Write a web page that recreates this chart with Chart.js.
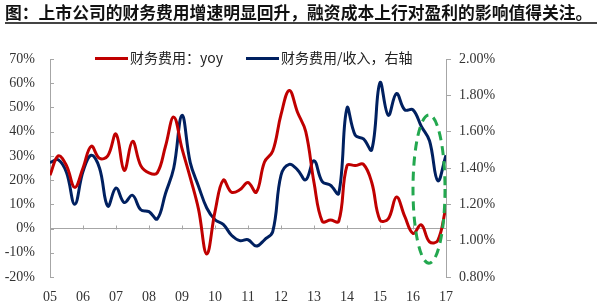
<!DOCTYPE html>
<html>
<head>
<meta charset="utf-8">
<script src="https://cdn.jsdelivr.net/npm/chart.js@4.4.0/dist/chart.umd.min.js"></script>
<style>
body { margin: 0; background: #fff; }
#wrap { position: relative; width: 600px; height: 304px; overflow: hidden; }
#chart { position: absolute; left: 0; top: 0; }
#title {
    position: absolute; left: 5px; top: 3px; width: 592px;
    font: bold 16.8px "Noto Sans CJK SC"; color: #111;
    line-height: 19px; border-bottom: 2px solid #444; white-space: nowrap;
}
.leg { position: absolute; top: 47px; height: 18px; line-height: 18px; font: 14px "Noto Sans CJK SC"; color: #222; white-space: nowrap; }
.leg i { display: inline-block; width: 33px; height: 3px; vertical-align: middle; margin-right: 2px; margin-top: -2px; }
</style>
</head>
<body>
<div id="wrap">
    <canvas id="chart" width="600" height="304"></canvas>
    <div id="title">图：上市公司的财务费用增速明显回升，融资成本上行对盈利的影响值得关注。</div>
    <div class="leg" id="leg0" style="left:95px"></div>
    <div class="leg" id="leg1" style="left:246px"></div>
</div>
<script>
// quarterly points, 2005 Q1 .. 2017 Q1
var quarters = [
    2005, 2005.25, 2005.5, 2005.75,
    2006, 2006.25, 2006.5, 2006.75,
    2007, 2007.25, 2007.5, 2007.75,
    2008, 2008.25, 2008.5, 2008.75,
    2009, 2009.25, 2009.5, 2009.75,
    2010, 2010.25, 2010.5, 2010.75,
    2011, 2011.25, 2011.5, 2011.75,
    2012, 2012.25, 2012.5, 2012.75,
    2013, 2013.25, 2013.5, 2013.75,
    2014, 2014.25, 2014.5, 2014.75,
    2015, 2015.25, 2015.5, 2015.75,
    2016, 2016.25, 2016.5, 2016.75,
    2017
];
// 财务费用 yoy (%), left axis
var yoy = [
    22, 30, 26, 17,
    25, 34, 29, 30,
    39, 24, 36, 26,
    23, 23, 34, 46,
    33, 21, 8, -10.5,
    7, 20, 15, 16,
    19, 15, 27.5, 32,
    47, 57, 48, 40,
    19, 3, 3.5, 3,
    26, 26, 26.5, 19,
    3.5, 4, 13, 5,
    -2, 1.5, -5.5, -5,
    9
];
// 财务费用/收入 (%), right axis
var ratio = [
    1.43, 1.445, 1.375, 1.20,
    1.38, 1.47, 1.40, 1.19,
    1.29, 1.21, 1.25, 1.17,
    1.16, 1.12, 1.26, 1.40,
    1.69, 1.43, 1.30, 1.18,
    1.115, 1.09, 1.03, 1.00,
    1.005, 0.97, 1.005, 1.05,
    1.36, 1.42, 1.39, 1.335,
    1.44, 1.325, 1.305, 1.26,
    1.73, 1.58, 1.56, 1.50,
    1.87, 1.69, 1.81, 1.72,
    1.72, 1.63, 1.55, 1.33,
    1.47
];
var seriesNames = ['财务费用：yoy', '财务费用/收入，右轴'];
var seriesColors = ['#c00000', '#002060'];
// highlighted area (dashed ellipse), in axis units (x: year, y: right axis)
var highlight = { x0: 2016.0, x1: 2016.97, y0: 0.876, y1: 1.692 };

var axisColor = '#a6a6a6';
var labelFont = { family: 'Liberation Serif', size: 14 };

function toPoints(values) {
    return quarters.map(function (q, i) {
        return { x: q, y: values[i] };
    });
}

seriesNames.forEach(function (name, i) {
    document.getElementById('leg' + i).innerHTML =
        '<i style="background:' + seriesColors[i] + '"></i>' + name;
});

var extras = {
    id: 'extras',
    afterDatasetsDraw: function (chart) {
        var ctx = chart.ctx;
        var x = chart.scales.x, y = chart.scales.y, y1 = chart.scales.y1;
        ctx.save();
        ctx.strokeStyle = axisColor;
        ctx.lineWidth = 1;
        // small ticks on the zero line
        var zero = Math.round(y.getPixelForValue(0)) + 0.5;
        for (var yr = 2006; yr <= 2016; yr++) {
            var px = Math.round(x.getPixelForValue(yr)) + 0.5;
            ctx.beginPath();
            ctx.moveTo(px, zero);
            ctx.lineTo(px, zero - 4);
            ctx.stroke();
        }
        // inner ticks on the left axis
        y.ticks.forEach(function (t) {
            var py = Math.round(y.getPixelForValue(t.value)) + 0.5;
            ctx.beginPath();
            ctx.moveTo(chart.chartArea.left, py);
            ctx.lineTo(chart.chartArea.left + 4, py);
            ctx.stroke();
        });
        // dashed ellipse
        var cx = x.getPixelForValue((highlight.x0 + highlight.x1) / 2);
        var cy = y1.getPixelForValue((highlight.y0 + highlight.y1) / 2);
        var rx = Math.abs(x.getPixelForValue(highlight.x1) - x.getPixelForValue(highlight.x0)) / 2;
        var ry = Math.abs(y1.getPixelForValue(highlight.y1) - y1.getPixelForValue(highlight.y0)) / 2;
        ctx.strokeStyle = '#23a84f';
        ctx.lineWidth = 3;
        ctx.setLineDash([9, 6]);
        ctx.beginPath();
        ctx.ellipse(cx, cy, rx, ry, 0, 0, Math.PI * 2);
        ctx.stroke();
        ctx.restore();
    }
};

new Chart(document.getElementById('chart'), {
    type: 'line',
    data: {
        datasets: [{
            label: seriesNames[0],
            data: toPoints(yoy),
            borderColor: seriesColors[0],
            backgroundColor: seriesColors[0],
            yAxisID: 'y',
        }, {
            label: seriesNames[1],
            data: toPoints(ratio),
            borderColor: seriesColors[1],
            backgroundColor: seriesColors[1],
            yAxisID: 'y1',
        }]
    },
    options: {
        responsive: false,
        animation: false,
        devicePixelRatio: 1,
        layout: { padding: { top: 59, left: 0, right: 0, bottom: 0 } },
        elements: {
            line: { borderWidth: 3, tension: 0.4 },
            point: { radius: 0 }
        },
        plugins: {
            legend: { display: false },
            tooltip: { enabled: false }
        },
        scales: {
            x: {
                type: 'linear',
                min: 2005,
                max: 2017,
                ticks: {
                    stepSize: 1,
                    autoSkip: false,
                    maxRotation: 0,
                    padding: 12,
                    color: '#333',
                    font: labelFont,
                    callback: function (v) { return String(v).slice(2); }
                },
                grid: { display: false, drawTicks: false },
                border: { display: false },
                afterFit: function (s) { s.height = 27; }
            },
            y: {
                position: 'left',
                min: -20,
                max: 70,
                ticks: {
                    stepSize: 10,
                    padding: 15,
                    color: '#333',
                    font: labelFont,
                    callback: function (v) { return v + '%'; }
                },
                grid: {
                    drawTicks: false,
                    color: function (c) { return c.tick && c.tick.value === 0 ? axisColor : 'transparent'; }
                },
                border: { display: true, color: axisColor },
                afterFit: function (s) { s.width = 50; }
            },
            y1: {
                position: 'right',
                min: 0.8,
                max: 2.0,
                ticks: {
                    stepSize: 0.2,
                    padding: 8,
                    color: '#333',
                    font: labelFont,
                    callback: function (v) { return v.toFixed(2) + '%'; }
                },
                grid: { drawOnChartArea: false, tickLength: 5, color: axisColor },
                border: { display: true, color: axisColor },
                afterFit: function (s) { s.width = 154; }
            }
        }
    },
    plugins: [extras]
});
</script>
</body>
</html>
